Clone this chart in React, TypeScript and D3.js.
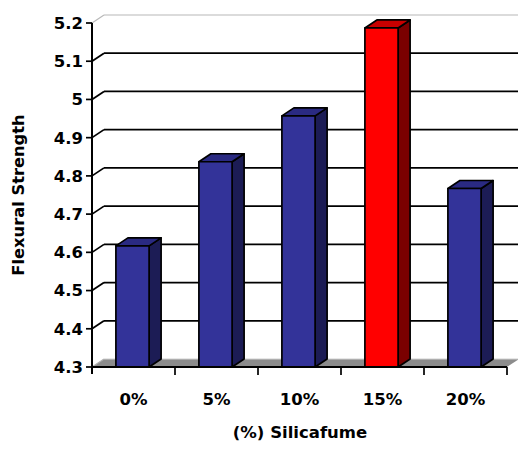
import React from "react";
import * as d3 from "d3";

const categories = ["0%", "5%", "10%", "15%", "20%"];
const values = [4.617, 4.837, 4.957, 5.187, 4.767];
const highlight = [false, false, false, true, false];
const yTicks = [4.3, 4.4, 4.5, 4.6, 4.7, 4.8, 4.9, 5.0, 5.1, 5.2];

const W = 518;
const H = 450;
const DX = 12;
const DY = -8;
const FONT = "'DejaVu Sans', sans-serif";

export default function App() {
  const x = d3.scaleBand<string>().domain(categories).range([92, 507]).padding(0);
  const y = d3.scaleLinear().domain([4.3, 5.2]).range([367, 23]);
  const bw = x.bandwidth() * 0.4;
  const x0 = 92, x1 = 507;
  const y0 = y(4.3), yTop = y(5.2);
  const fmt = (v: number) => (Math.abs(v - 5) < 1e-9 ? "5" : d3.format(".1f")(v));

  const blue = { front: "#333399", side: "#1c1c55", top: "#2a2a82" };
  const red = { front: "#ff0000", side: "#7a0000", top: "#c80000" };

  return (
    <svg width={W} height={H} style={{ position: "absolute", left: 0, top: 0, background: "#fff" }}>
      {/* back wall top border */}
      <line x1={x0 + DX} y1={yTop + DY} x2={W} y2={yTop + DY} stroke="#b8b8b8" strokeWidth={1.2} />
      <line x1={x0} y1={yTop} x2={x0 + DX} y2={yTop + DY} stroke="#b8b8b8" strokeWidth={1.2} />
      {/* gridlines */}
      {yTicks.filter((t) => t > 4.3 && t < 5.2).map((t) => (
        <g key={t}>
          <line x1={x0} y1={y(t)} x2={x0 + DX} y2={y(t) + DY} stroke="#000" strokeWidth={1.7} />
          <line x1={x0 + DX} y1={y(t) + DY} x2={W} y2={y(t) + DY} stroke="#000" strokeWidth={1.7} />
        </g>
      ))}
      {/* floor */}
      <polygon
        points={`${x0},${y0} ${x1},${y0} ${x1 + DX},${y0 + DY} ${x0 + DX},${y0 + DY}`}
        fill="#8c8c8c"
        stroke="none"
      />
      <line x1={x0 + DX} y1={y0 + DY} x2={x1 + DX} y2={y0 + DY} stroke="#d0d0d0" strokeWidth={1.2} />
      <line x1={x0} y1={y0} x2={x0 + DX} y2={y0 + DY} stroke="#b0b0b0" strokeWidth={1.2} />
      {/* bars */}
      {categories.map((c, i) => {
        const col = highlight[i] ? red : blue;
        const cx = (x(c) as number) + x.bandwidth() / 2 - 1;
        const bx0 = cx - bw / 2;
        const bx1 = cx + bw / 2;
        const by = y(values[i]);
        return (
          <g key={c} stroke="#000" strokeWidth={1.7} strokeLinejoin="round">
            <polygon
              points={`${bx1},${y0} ${bx1 + DX},${y0 + DY} ${bx1 + DX},${by + DY} ${bx1},${by}`}
              fill={col.side}
            />
            <polygon
              points={`${bx0},${by} ${bx1},${by} ${bx1 + DX},${by + DY} ${bx0 + DX},${by + DY}`}
              fill={col.top}
            />
            <rect x={bx0} y={by} width={bw} height={y0 - by} fill={col.front} />
          </g>
        );
      })}
      {/* x axis */}
      <line x1={x0} y1={y0} x2={x1} y2={y0} stroke="#000" strokeWidth={2} />
      {categories.map((c) => (
        <line key={c} x1={(x(c) as number) + x.bandwidth()} y1={y0} x2={(x(c) as number) + x.bandwidth()} y2={y0 + 8} stroke="#000" strokeWidth={1.7} />
      ))}
      {/* y axis */}
      <line x1={x0} y1={yTop} x2={x0} y2={y0 + 7} stroke="#000" strokeWidth={2} />
      {yTicks.map((t) => (
        <g key={t}>
          <line x1={x0 - 6} y1={y(t)} x2={x0} y2={y(t)} stroke="#000" strokeWidth={1.7} />
          <text x={x0 - 9} y={y(t)} dy="0.36em" textAnchor="end" fontFamily={FONT} fontWeight="bold" fontSize={16.5} fill="#000">
            {fmt(t)}
          </text>
        </g>
      ))}
      {categories.map((c) => (
        <text key={c} x={(x(c) as number) + x.bandwidth() / 2} y={405} textAnchor="middle" fontFamily={FONT} fontWeight="bold" fontSize={16.5} fill="#000">
          {c}
        </text>
      ))}
      <text x={300} y={438} textAnchor="middle" fontFamily={FONT} fontWeight="bold" fontSize={16.5} fill="#000">
        (%) Silicafume
      </text>
      <text transform={`translate(24,195) rotate(-90)`} textAnchor="middle" fontFamily={FONT} fontWeight="bold" fontSize={16.3} fill="#000">
        Flexural Strength
      </text>
    </svg>
  );
}
